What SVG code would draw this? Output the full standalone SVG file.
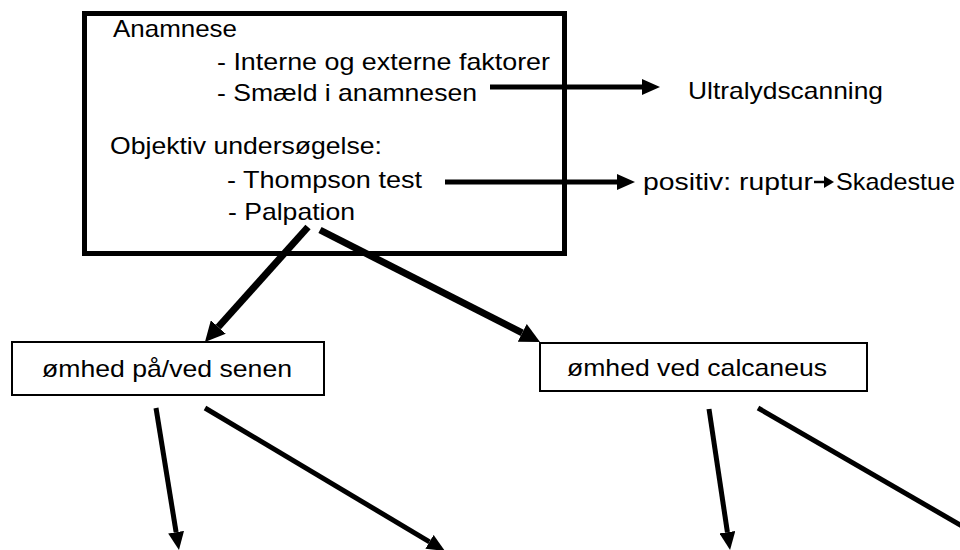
<svg xmlns="http://www.w3.org/2000/svg" width="960" height="550" viewBox="0 0 960 550">
<style>
text{font-family:"Liberation Sans",Arial,Helvetica,sans-serif;font-size:24px;fill:#000}
.thin{fill:#fff;stroke:#000;stroke-width:2}
.main{fill:#fff;stroke:#000;stroke-width:5}
.c5{stroke:#000;stroke-width:5;fill:none}
.c7{stroke:#000;stroke-width:7;fill:none}
.c3{stroke:#000;stroke-width:2.5;fill:none}
</style>
<defs>
<marker id="big" viewBox="0 -10 20 20" refX="0" refY="0" markerUnits="userSpaceOnUse" markerWidth="20" markerHeight="20" orient="auto"><path d="M0,-10 L20,0 L0,10 z" fill="#000"/></marker>
<marker id="med" viewBox="0 -8 18 16" refX="0" refY="0" markerUnits="userSpaceOnUse" markerWidth="18" markerHeight="16" orient="auto"><path d="M0,-8 L18,0 L0,8 z" fill="#000"/></marker>
<marker id="sm" viewBox="0 -6 10 12" refX="0" refY="0" markerUnits="userSpaceOnUse" markerWidth="10" markerHeight="12" orient="auto"><path d="M0,-6 L10,0 L0,6 z" fill="#000"/></marker>
</defs>
<g id="main-box">
<rect class="main" x="84.5" y="13.5" width="480" height="240"/>
<text x="113" y="37" textLength="124" lengthAdjust="spacingAndGlyphs">Anamnese</text>
<text x="217" y="70" textLength="333" lengthAdjust="spacingAndGlyphs">- Interne og externe faktorer</text>
<text x="217" y="101" textLength="260" lengthAdjust="spacingAndGlyphs">- Smæld i anamnesen</text>
<text x="110" y="154" textLength="272" lengthAdjust="spacingAndGlyphs">Objektiv undersøgelse:</text>
<text x="227" y="188" textLength="195" lengthAdjust="spacingAndGlyphs">- Thompson test</text>
<text x="228" y="220" textLength="127" lengthAdjust="spacingAndGlyphs">- Palpation</text>
</g>
<g id="ultralyd">
<text x="688" y="99" textLength="195" lengthAdjust="spacingAndGlyphs">Ultralydscanning</text>
</g>
<g id="positiv">
<text x="643" y="190" textLength="170" lengthAdjust="spacingAndGlyphs">positiv: ruptur</text>
</g>
<g id="skadestue">
<text x="836" y="190" textLength="119" lengthAdjust="spacingAndGlyphs">Skadestue</text>
</g>
<g id="senen">
<rect class="thin" x="12" y="342" width="312" height="53"/>
<text x="42" y="377" textLength="250" lengthAdjust="spacingAndGlyphs">ømhed på/ved senen</text>
</g>
<g id="calcaneus">
<rect class="thin" x="540" y="343" width="327" height="48"/>
<text x="567" y="376" textLength="260" lengthAdjust="spacingAndGlyphs">ømhed ved calcaneus</text>
</g>
<g id="connectors">
<line class="c5" x1="490" y1="87" x2="642" y2="87" marker-end="url(#med)"/>
<line class="c5" x1="445" y1="182" x2="617" y2="182" marker-end="url(#med)"/>
<line class="c3" x1="814" y1="182" x2="824" y2="182" marker-end="url(#sm)"/>
<line class="c7" x1="308" y1="227" x2="218.3" y2="327" marker-end="url(#big)"/>
<line class="c7" x1="320" y1="230" x2="522.2" y2="332.9" marker-end="url(#big)"/>
<line class="c5" x1="156" y1="408" x2="176.1" y2="532.2" marker-end="url(#med)"/>
<line class="c5" x1="205" y1="408" x2="429.5" y2="541.8" marker-end="url(#med)"/>
<line class="c5" x1="709" y1="409" x2="727.4" y2="532.2" marker-end="url(#med)"/>
<line class="c5" x1="758" y1="408" x2="1000" y2="548" marker-end="url(#med)"/>
</g>
</svg>
